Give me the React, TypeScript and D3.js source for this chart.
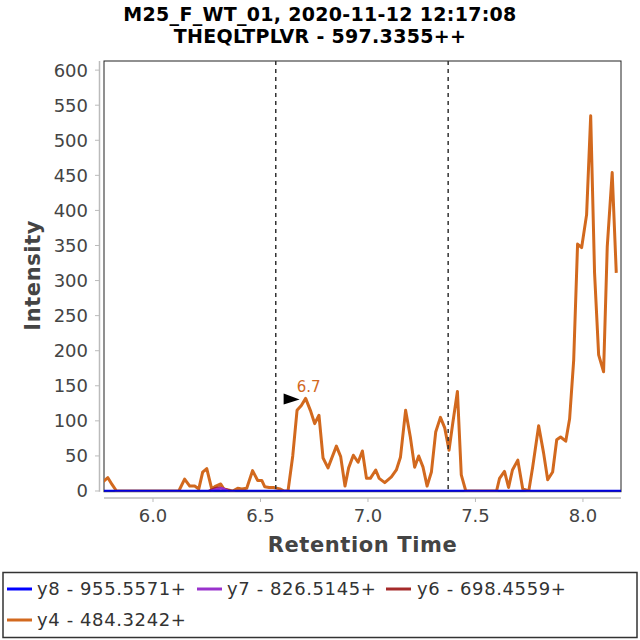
import React from "react";
import * as d3 from "d3";

const titleLines = ["M25_F_WT_01, 2020-11-12 12:17:08", "THEQLTPLVR - 597.3355++"];
const xTicks = [6.0, 6.5, 7.0, 7.5, 8.0];
const yTicks = [0, 50, 100, 150, 200, 250, 300, 350, 400, 450, 500, 550, 600];
const boundaryLines = [6.571, 7.373];
const peakRT = 6.71;
const peakValue = 132;
const peakLabel = "6.7";

const y4RT = [5.76, 5.775, 5.79, 5.81, 5.83, 6.12, 6.147, 6.171, 6.194, 6.213, 6.231, 6.25, 6.273, 6.292, 6.315, 6.329, 6.371, 6.394, 6.413, 6.436, 6.463, 6.487, 6.506, 6.52, 6.54, 6.56, 6.59, 6.61, 6.628, 6.65, 6.67, 6.69, 6.71, 6.732, 6.752, 6.772, 6.791, 6.814, 6.853, 6.873, 6.893, 6.91, 6.932, 6.954, 6.974, 6.993, 7.011, 7.036, 7.052, 7.078, 7.109, 7.132, 7.151, 7.175, 7.197, 7.217, 7.236, 7.256, 7.275, 7.295, 7.315, 7.337, 7.357, 7.377, 7.395, 7.416, 7.434, 7.455, 7.598, 7.612, 7.635, 7.654, 7.672, 7.697, 7.72, 7.748, 7.766, 7.794, 7.817, 7.836, 7.859, 7.878, 7.896, 7.92, 7.938, 7.957, 7.975, 7.994, 8.017, 8.036, 8.054, 8.073, 8.096, 8.113, 8.136, 8.155];
const y4Int = [12, 15, 19, 9, 0, 0, 17, 7, 7, 3, 27, 32, 3, 7, 10, 3, 0, 4, 3, 4, 29, 15, 15, 6, 5, 5, 3, 0, 0, 50, 115, 122, 132, 115, 96, 108, 47, 33, 64, 49, 7, 33, 51, 41, 57, 18, 18, 30, 18, 12, 20, 30, 48, 115, 77, 34, 50, 34, 7, 27, 84, 105, 90, 58, 98, 142, 23, 0, 0, 18, 28, 5, 30, 44, 3, 0, 34, 93, 54, 16, 27, 73, 77, 71, 103, 187, 352, 347, 394, 535, 311, 194, 170, 348, 454, 311];

const y6RT = [6.26, 6.29, 6.31, 6.33, 6.36];
const y6Int = [0, 4, 5, 3, 0];
const y7RT = [6.27, 6.30, 6.32, 6.35];
const y7Int = [0, 3, 4, 0];
const y8RT = [5.75, 8.2];
const y8Int = [0, 0];

const legendLabels = ["y8 - 955.5571+", "y7 - 826.5145+", "y6 - 698.4559+", "y4 - 484.3242+"];
const legendColors = ["#0000ff", "#9932cc", "#a52a2a", "#d2691e"];

const FONT = "DejaVu Sans";
const L = 104, R = 621, T = 61, B = 491.7;

export default function App() {
  const x = d3.scaleLinear().domain([5.772, 8.177]).range([L, R]);
  const y = d3.scaleLinear().domain([-1, 613]).range([B, T]);
  const line = d3.line<[number, number]>().x(d => x(d[0])).y(d => y(d[1]));
  const series = [
    { rt: y4RT, v: y4Int, c: legendColors[3], w: 3 },
    { rt: y6RT, v: y6Int, c: legendColors[2], w: 2.5 },
    { rt: y7RT, v: y7Int, c: legendColors[1], w: 2.5 },
    { rt: y8RT, v: y8Int, c: "#0000e0", w: 2.5 },
  ];
  const legendPos = [
    { lx: 7, tx: 37, y: 589 },
    { lx: 197, tx: 227, y: 589 },
    { lx: 386, tx: 417, y: 589 },
    { lx: 7, tx: 37, y: 620 },
  ];
  const px = x(peakRT), py = y(peakValue);
  return (
    <svg width={640} height={640} style={{ position: "absolute", left: 0, top: 0, background: "#fff" }} fontFamily={FONT}>
      <rect x={0} y={0} width={640} height={640} fill="#fff" />
      {titleLines.map((t, i) => (
        <text key={t} x={320} y={21 + i * 21.5} textAnchor="middle" fontSize={19} letterSpacing={0.3} fontWeight="bold" fill="#000">{t}</text>
      ))}
      <defs>
        <clipPath id="plotclip"><rect x={L} y={T} width={R - L} height={B - T} /></clipPath>
      </defs>
      <rect x={L} y={T} width={R - L} height={B - T} fill="#fff" stroke="#222" strokeWidth={1} />
      <line x1={99.5} x2={99.5} y1={T} y2={B} stroke="#bbb" strokeWidth={1.5} />
      {yTicks.map(t => (
        <g key={t}>
          <line x1={95} x2={99.5} y1={y(t)} y2={y(t)} stroke="#bbb" strokeWidth={1} />
          <text x={88} y={y(t)} dy="0.36em" textAnchor="end" fontSize={18} fill="#444">{t}</text>
        </g>
      ))}
      <line x1={L} x2={R} y1={498} y2={498} stroke="#bbb" strokeWidth={1.5} />
      {xTicks.map(t => (
        <g key={t}>
          <line x1={x(t)} x2={x(t)} y1={498} y2={502} stroke="#bbb" strokeWidth={1} />
          <text x={x(t)} y={521.5} textAnchor="middle" fontSize={18} fill="#444">{t.toFixed(1)}</text>
        </g>
      ))}
      <text x={(L + R) / 2} y={552} textAnchor="middle" fontSize={21} letterSpacing={0.6} fontWeight="bold" fill="#444">Retention Time</text>
      <text transform={`translate(40,${(T + B) / 2 - 1}) rotate(-90)`} textAnchor="middle" fontSize={21} letterSpacing={0.6} fontWeight="bold" fill="#444">Intensity</text>
      <g clipPath="url(#plotclip)">
        {series.map((s, i) => (
          <path key={i} d={line(s.rt.map((r, j) => [r, s.v[j]] as [number, number])) || ""} fill="none" stroke={s.c} strokeWidth={s.w} strokeLinejoin="round" />
        ))}
        {boundaryLines.map(b => (
          <line key={b} x1={x(b)} x2={x(b)} y1={T} y2={B} stroke="#333" strokeWidth={1.5} strokeDasharray="4,4" />
        ))}
      </g>
      <path d={`M${px - 6},${py + 1} L${px - 22},${py - 5} L${px - 22},${py + 6} Z`} fill="#000" />
      <text x={px + 3} y={py - 6} textAnchor="middle" fontSize={15} fill={legendColors[3]}>{peakLabel}</text>
      <rect x={3} y={572.5} width={634} height={65} fill="#fff" stroke="#333" strokeWidth={1.5} />
      {legendLabels.map((lab, i) => (
        <g key={lab}>
          <line x1={legendPos[i].lx} x2={legendPos[i].lx + 25} y1={legendPos[i].y} y2={legendPos[i].y} stroke={legendColors[i]} strokeWidth={3} />
          <text x={legendPos[i].tx} y={legendPos[i].y} dy="0.36em" fontSize={18} letterSpacing={0.6} fill="#333">{lab}</text>
        </g>
      ))}
    </svg>
  );
}
